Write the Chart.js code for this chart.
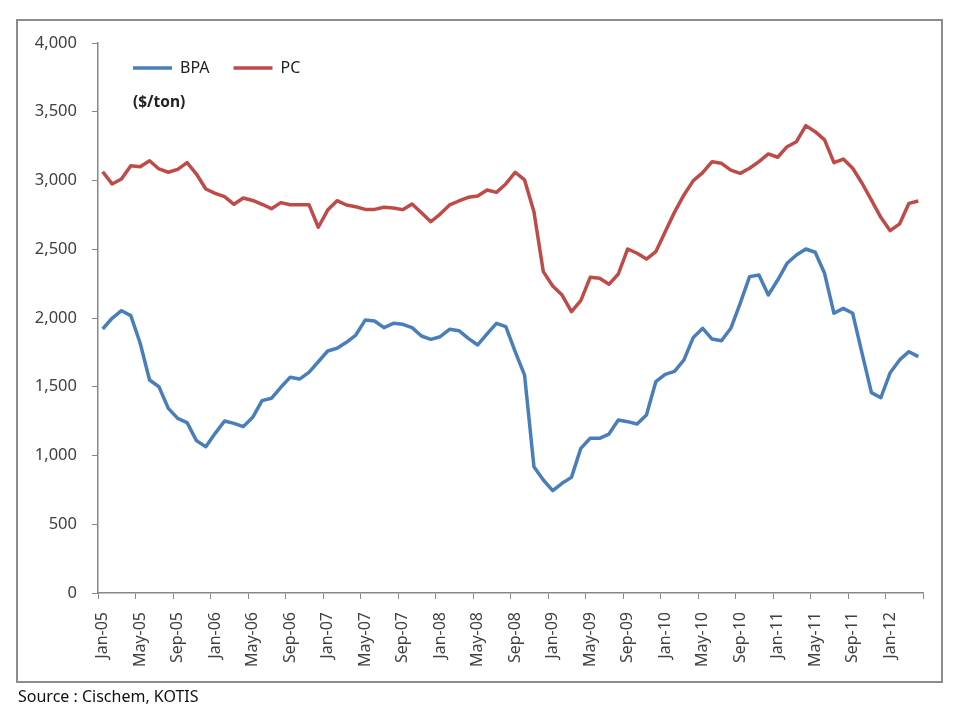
<!DOCTYPE html>
<html>
<head>
<meta charset="utf-8">
<script src="https://cdn.jsdelivr.net/npm/chart.js@4/dist/chart.umd.min.js"></script>
<style>
	body { margin: 0; background: #fff; }
	#wrap { position: relative; width: 960px; height: 720px; }
	#frame { position: absolute; left: 16px; top: 19px; width: 923px; height: 660px; border: 2px solid #8c8c8c; }
	#unit { position: absolute; left: 133px; top: 90px; font: bold 15.5px 'Noto Sans', sans-serif; color: #222; }
	#source { position: absolute; left: 18px; top: 685px; font: 16px 'Noto Sans', sans-serif; color: #111; }
	canvas { position: absolute; left: 0; top: 0; }
</style>
</head>
<body>
<div id="wrap">
	<div id="frame"></div>
	<canvas id="chart" width="960" height="720"></canvas>
	<div id="unit">($/ton)</div>
	<div id="source">Source : Cischem, KOTIS</div>
</div>
<script>
// months Jan-05 .. Apr-12
var monthNames = ['Jan','Feb','Mar','Apr','May','Jun','Jul','Aug','Sep','Oct','Nov','Dec'];
var years = ['05','06','07','08','09','10','11','12'];
var monthCount = 88;

var bpa = [1920,1998,2053,2017,1816,1549,1500,1343,1270,1239,
	1108,1064,1161,1251,1234,1210,1278,1399,1416,1496,
	1569,1556,1605,1682,1760,1780,1823,1876,1985,1978,
	1930,1961,1954,1930,1869,1845,1864,1918,1908,1852,
	1804,1884,1961,1937,1755,1585,919,822,744,798,
	841,1052,1125,1125,1156,1258,1246,1229,1295,1537,
	1590,1612,1695,1859,1925,1847,1835,1925,2107,2301,
	2313,2167,2276,2398,2458,2502,2478,2325,2034,2070,
	2034,1743,1457,1420,1602,1695,1755,1719];

var pc = [3064,2975,3011,3108,3100,3144,3084,3060,3081,3130,
	3047,2938,2907,2882,2827,2873,2855,2827,2795,2839,
	2824,2824,2824,2660,2785,2853,2822,2809,2790,2790,
	2805,2800,2788,2829,2766,2700,2756,2822,2851,2878,
	2887,2931,2914,2975,3060,3004,2773,2337,2233,2167,
	2046,2126,2296,2289,2245,2320,2502,2471,2429,2482,
	2628,2770,2895,2999,3057,3137,3125,3076,3052,3089,
	3137,3193,3169,3246,3282,3399,3355,3295,3130,3156,
	3089,2980,2858,2732,2635,2684,2834,2851];

var labels = [];
for (var i = 0; i < monthCount; i++) {
	labels.push(monthNames[i % 12] + '-' + years[Math.floor(i / 12)]);
}

var axisColor = '#888888';
Chart.defaults.font.family = "'Noto Sans', sans-serif";
Chart.defaults.color = '#404040';

// legend is laid out on top, then moved down inside the plot
var legendShift = {
	id: 'legendShift',
	afterLayout: function (chart) {
		var lg = chart.legend;
		var h = lg.height;
		lg.left = chart.chartArea.left + 11;
		lg.right = chart.chartArea.right;
		lg.top = chart.chartArea.top - 7;
		lg.bottom = lg.top + h;
	}
};

var ctx = document.getElementById('chart').getContext('2d');
var cfg = {
	type: 'line',
	data: {
		labels: labels,
		datasets: [
			{
				label: 'BPA',
				data: bpa,
				borderColor: '#4a7ebb',
				backgroundColor: '#4a7ebb',
				borderWidth: 3.5,
				pointRadius: 0,
				tension: 0,
				borderJoinStyle: 'round'
			},
			{
				label: 'PC',
				data: pc,
				borderColor: '#be4b48',
				backgroundColor: '#be4b48',
				borderWidth: 3.5,
				pointRadius: 0,
				tension: 0,
				borderJoinStyle: 'round'
			}
		]
	},
	options: {
		responsive: false,
		animation: false,
		layout: { padding: { left: 17, right: 37, top: -7, bottom: 47 } },
		plugins: {
			legend: {
				position: 'top',
				align: 'start',
				labels: {
					usePointStyle: true,
					pointStyle: 'line',
					pointStyleWidth: 39,
					padding: 24,
					color: '#222',
					font: { size: 16 }
				}
			},
			tooltip: { enabled: false }
		},
		scales: {
			x: {
				offset: true,
				afterFit: function (s) { s.height = 80; },
				grid: {
					offset: true,
					drawOnChartArea: false,
					tickLength: 6,
					color: function (c) {
						return (c.index === undefined || c.index % 4 === 0) ? axisColor : 'rgba(0,0,0,0)';
					}
				},
				border: { color: axisColor, width: 1.5 },
				ticks: {
					autoSkip: false,
					minRotation: 90,
					maxRotation: 90,
					padding: 13,
					font: { size: 16 },
					callback: function (v, i) { return i % 4 === 0 ? labels[i] : ''; }
				}
			},
			y: {
				min: 0,
				max: 4000,
				afterFit: function (s) { s.width = 81; },
				grid: { drawOnChartArea: false, tickLength: 6, color: axisColor },
				border: { color: axisColor, width: 1.5 },
				ticks: {
					stepSize: 500,
					padding: 15,
					font: { size: 16.5 },
					callback: function (v) { return v.toLocaleString('en-US'); }
				}
			}
		}
	},
	plugins: [legendShift]
};
var chart = new Chart(ctx, cfg);
</script>
</body>
</html>
